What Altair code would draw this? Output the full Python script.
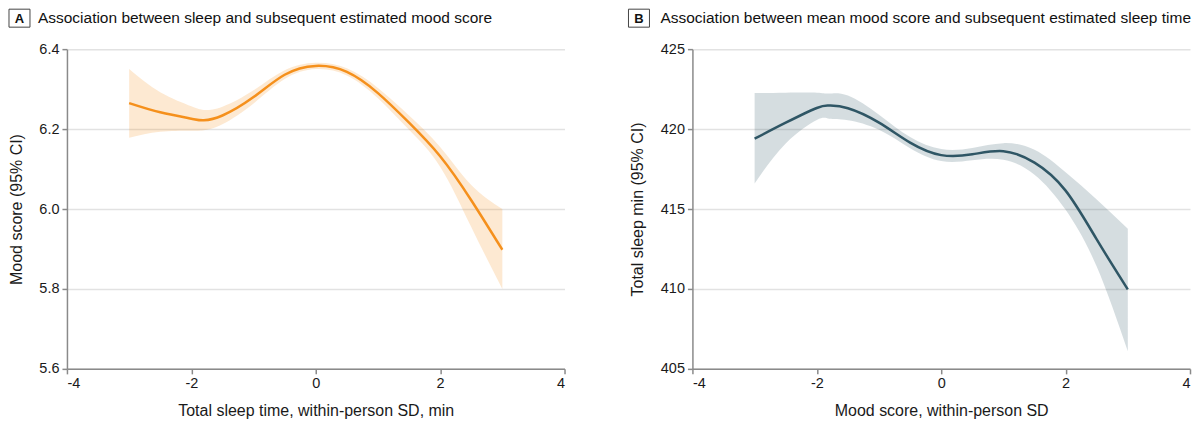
import altair as alt
import pandas as pd

# ---- data ----
x_a = [-3.0, -2.5, -2.0, -1.8, -1.5, -1.0, -0.5, 0.0, 0.5, 1.0, 1.5, 2.0, 2.5, 3.0]
mood = [6.265, 6.242, 6.226, 6.222, 6.234, 6.280, 6.336, 6.358, 6.343, 6.290, 6.216, 6.132, 6.022, 5.898]
mood_lo = [6.178, 6.193, 6.196, 6.197, 6.212, 6.264, 6.325, 6.350, 6.334, 6.277, 6.198, 6.106, 5.955, 5.800]
mood_hi = [6.350, 6.292, 6.257, 6.248, 6.256, 6.297, 6.347, 6.366, 6.352, 6.303, 6.234, 6.155, 6.060, 6.000]

x_b = [-3.0, -2.5, -2.0, -1.8, -1.5, -1.0, -0.5, 0.0, 0.5, 1.0, 1.5, 2.0, 2.5, 3.0]
sleep = [419.40, 420.40, 421.32, 421.47, 421.30, 420.40, 419.15, 418.37, 418.42, 418.62, 417.90, 416.15, 413.10, 409.97]
sleep_lo = [416.60, 419.10, 420.57, 420.64, 420.55, 419.95, 418.80, 418.00, 418.05, 418.08, 417.15, 414.95, 411.40, 406.10]
sleep_hi = [422.25, 422.27, 422.27, 422.22, 422.10, 420.90, 419.50, 418.75, 418.82, 419.12, 418.70, 417.30, 415.60, 413.77]

x_ticks = [-4, -2, 0, 2, 4]
mood_ticks = [5.6, 5.8, 6.0, 6.2, 6.4]
sleep_ticks = [405, 410, 415, 420, 425]

title_a = "Association between sleep and subsequent estimated mood score"
title_b = "Association between mean mood score and subsequent estimated sleep time"

FONT = "Liberation Sans"
W, H = 498, 320


def panel(xv, yv, lo, hi, letter, title, xtitle, ytitle, ydom, yticks, ylabel_expr,
          line_color, band_color, box_x, text_x, ytitle_x):
    df = pd.DataFrame({"x": xv, "y": yv, "lo": lo, "hi": hi})
    one = pd.DataFrame({"k": [0]})
    xaxis = alt.Axis(values=x_ticks, title=xtitle, grid=False,
                     labelExpr="'' + datum.value",
                     titleY=42, titleBaseline="middle")
    yaxis = alt.Axis(values=yticks, title=ytitle, grid=True,
                     labelExpr=ylabel_expr,
                     titleX=ytitle_x, titleY=H / 2, titleAngle=270,
                     titleAlign="center", titleBaseline="middle")
    xscale = alt.Scale(domain=[-4, 4], nice=False, zero=False)
    yscale = alt.Scale(domain=ydom, nice=False, zero=False)
    band = alt.Chart(df).mark_area(color=band_color, opacity=0.2, interpolate="natural").encode(
        x=alt.X("x:Q", scale=xscale, axis=xaxis, title=xtitle),
        y=alt.Y("lo:Q", scale=yscale, axis=yaxis, title=ytitle),
        y2="hi:Q",
    )
    line = alt.Chart(df).mark_line(color=line_color, strokeWidth=2.5, interpolate="natural").encode(
        x=alt.X("x:Q", scale=xscale, axis=xaxis, title=xtitle),
        y=alt.Y("y:Q", scale=yscale, axis=yaxis, title=ytitle),
    )
    box = alt.Chart(one).mark_rect(fill="white", stroke="#444444", strokeWidth=1).encode(
        x=alt.value(box_x), x2=alt.value(box_x + 21),
        y=alt.value(-40), y2=alt.value(-22),
    )
    letter_t = alt.Chart(one).mark_text(
        text=letter, font=FONT, fontSize=13, fontWeight="bold", color="#111111",
        align="center", baseline="middle",
    ).encode(x=alt.value(box_x + 10.5), y=alt.value(-30.5))
    title_t = alt.Chart(one).mark_text(
        text=title, font=FONT, fontSize=15.5, color="#111111",
        align="left", baseline="middle",
    ).encode(x=alt.value(text_x), y=alt.value(-31))
    return alt.layer(band, line, box, letter_t, title_t).properties(width=W, height=H)


pa = panel(x_a, mood, mood_lo, mood_hi, "A", title_a,
           "Total sleep time, within-person SD, min", "Mood score (95% CI)",
           [5.6, 6.4], mood_ticks, "format(datum.value, '.1f')",
           "#F5901C", "#F5901C", -58, -29, -50)
pb = panel(x_b, sleep, sleep_lo, sleep_hi, "B", title_b,
           "Mood score, within-person SD", "Total sleep min (95% CI)",
           [405, 425], sleep_ticks, "'' + datum.value",
           "#2F5665", "#2F5665", -64, -32, -55)

chart = alt.hconcat(pa, pb, spacing=62).properties(padding=0).configure_view(
    stroke=None
).configure_axis(
    labelFont=FONT, labelFontSize=14.5, labelColor="#1a1a1a", labelPadding=3,
    titleFont=FONT, titleFontSize=16, titleFontWeight="normal", titleColor="#1a1a1a",
    domainColor="#8A8A8A", domainWidth=1.5,
    tickColor="#8A8A8A", tickWidth=1.5, tickSize=5,
    gridColor="#E2E2E2", gridWidth=1.5,
)

chart.save("out.html", embed_options={"renderer": "svg", "actions": False})
